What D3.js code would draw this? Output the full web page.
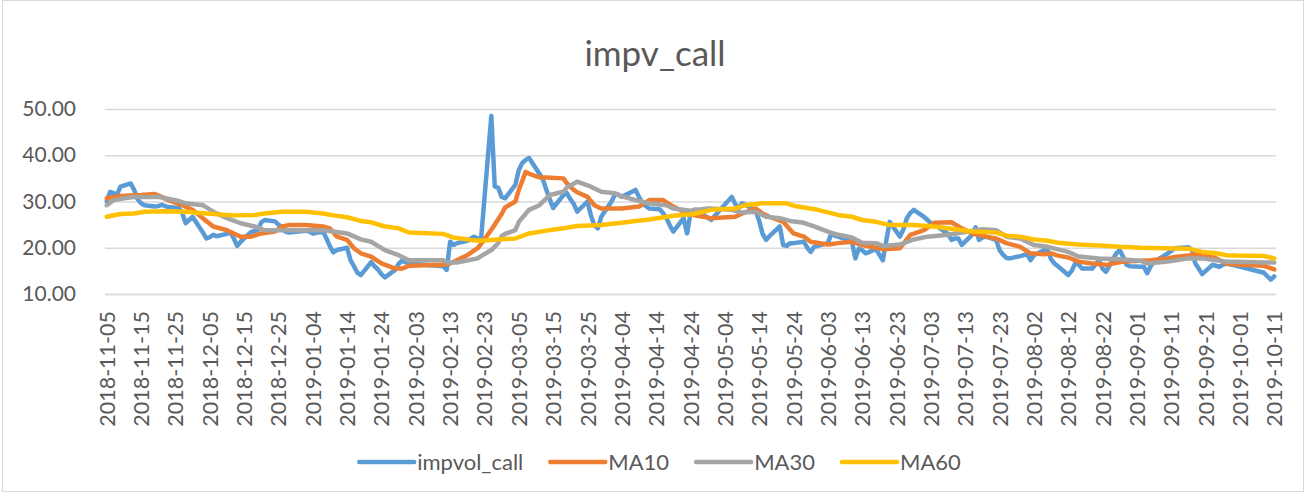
<!DOCTYPE html>
<html>
<head>
<meta charset="utf-8">
<script src="https://cdn.jsdelivr.net/npm/d3@7"></script>
<style>
  html, body { margin: 0; padding: 0; background: #fff; }
  svg { display: block; font-family: Lato, "Open Sans", sans-serif; }
</style>
</head>
<body>
<svg id="chart" width="1307" height="494"></svg>
<script>
// ---- data ----
const firstDay = '2018-11-05';
const lastDay = '2019-10-11';
const yTicks = [10, 20, 30, 40, 50];

const impvolDates = [
  '2018-11-05','2018-11-06','2018-11-07','2018-11-08','2018-11-09','2018-11-12','2018-11-13','2018-11-14','2018-11-15','2018-11-16',
  '2018-11-19','2018-11-20','2018-11-21','2018-11-22','2018-11-23','2018-11-26','2018-11-27','2018-11-28','2018-11-29','2018-11-30',
  '2018-12-03','2018-12-04','2018-12-05','2018-12-06','2018-12-07','2018-12-10','2018-12-11','2018-12-12','2018-12-13','2018-12-14',
  '2018-12-17','2018-12-18','2018-12-19','2018-12-20','2018-12-21','2018-12-24','2018-12-25','2018-12-26','2018-12-27','2018-12-28',
  '2019-01-02','2019-01-03','2019-01-04','2019-01-07','2019-01-08','2019-01-09','2019-01-10','2019-01-11','2019-01-14','2019-01-15',
  '2019-01-16','2019-01-17','2019-01-18','2019-01-21','2019-01-22','2019-01-23','2019-01-24','2019-01-25','2019-01-28','2019-01-29',
  '2019-01-30','2019-01-31','2019-02-01','2019-02-11','2019-02-12','2019-02-13','2019-02-14','2019-02-15','2019-02-18','2019-02-19',
  '2019-02-20','2019-02-21','2019-02-22','2019-02-25','2019-02-26','2019-02-27','2019-02-28','2019-03-01','2019-03-04','2019-03-05',
  '2019-03-06','2019-03-07','2019-03-08','2019-03-11','2019-03-12','2019-03-13','2019-03-14','2019-03-15','2019-03-18','2019-03-19',
  '2019-03-20','2019-03-21','2019-03-22','2019-03-25','2019-03-26','2019-03-27','2019-03-28','2019-03-29','2019-04-01','2019-04-02',
  '2019-04-03','2019-04-04','2019-04-08','2019-04-09','2019-04-10','2019-04-11','2019-04-12','2019-04-15','2019-04-16','2019-04-17',
  '2019-04-18','2019-04-19','2019-04-22','2019-04-23','2019-04-24','2019-04-25','2019-04-26','2019-04-29','2019-04-30','2019-05-06',
  '2019-05-07','2019-05-08','2019-05-09','2019-05-10','2019-05-13','2019-05-14','2019-05-15','2019-05-16','2019-05-17','2019-05-20',
  '2019-05-21','2019-05-22','2019-05-23','2019-05-24','2019-05-27','2019-05-28','2019-05-29','2019-05-30','2019-05-31','2019-06-03',
  '2019-06-04','2019-06-05','2019-06-06','2019-06-10','2019-06-11','2019-06-12','2019-06-13','2019-06-14','2019-06-17','2019-06-18',
  '2019-06-19','2019-06-20','2019-06-21','2019-06-24','2019-06-25','2019-06-26','2019-06-27','2019-06-28','2019-07-01','2019-07-02',
  '2019-07-03','2019-07-04','2019-07-05','2019-07-08','2019-07-09','2019-07-10','2019-07-11','2019-07-12','2019-07-15','2019-07-16',
  '2019-07-17','2019-07-18','2019-07-19','2019-07-22','2019-07-23','2019-07-24','2019-07-25','2019-07-26','2019-07-29','2019-07-30',
  '2019-07-31','2019-08-01','2019-08-02','2019-08-05','2019-08-06','2019-08-07','2019-08-08','2019-08-09','2019-08-12','2019-08-13',
  '2019-08-14','2019-08-15','2019-08-16','2019-08-19','2019-08-20','2019-08-21','2019-08-22','2019-08-23','2019-08-26','2019-08-27',
  '2019-08-28','2019-08-29','2019-08-30','2019-09-02','2019-09-03','2019-09-04','2019-09-05','2019-09-06','2019-09-09','2019-09-10',
  '2019-09-11','2019-09-12','2019-09-16','2019-09-17','2019-09-18','2019-09-19','2019-09-20','2019-09-23','2019-09-24','2019-09-25',
  '2019-09-26','2019-09-27','2019-09-30','2019-10-08','2019-10-09','2019-10-10','2019-10-11'
];
const impvolValues = [
  30.0,32.1,31.8,31.5,33.2,33.9,32.5,30.5,29.6,29.2,
  28.9,29.0,29.3,29.0,28.8,28.6,27.5,25.3,26.0,26.7,
  23.3,22.0,22.3,22.8,22.5,23.0,23.3,22.0,20.4,21.3,
  23.4,23.6,23.8,25.5,26.0,25.7,25.0,24.5,23.5,23.3,
  23.7,23.5,23.1,23.5,22.0,20.3,19.0,19.5,20.0,17.3,
  16.0,14.6,14.1,16.9,16.0,15.3,14.3,13.6,15.2,16.5,
  17.2,16.9,16.6,16.0,15.2,21.3,20.6,21.0,21.5,22.0,
  22.4,22.0,21.8,48.5,33.2,33.0,31.0,30.7,33.6,36.8,
  38.3,39.0,39.4,36.0,34.8,32.6,30.5,28.6,31.4,31.8,
  30.5,29.5,27.8,30.0,27.0,24.8,24.2,26.7,30.0,31.5,
  31.5,31.0,32.5,31.0,29.6,29.0,28.5,28.3,27.5,26.4,
  24.8,23.5,26.4,23.1,27.5,28.2,28.2,26.5,26.0,31.0,
  29.5,28.5,29.6,29.3,28.0,25.8,23.0,21.7,22.5,24.6,
  20.6,20.4,21.0,21.0,21.3,20.0,19.1,20.2,20.4,21.0,
  23.1,22.6,22.4,21.3,17.7,19.8,19.5,18.8,19.7,18.5,
  17.3,21.5,25.6,22.4,24.0,26.4,27.5,28.2,26.7,26.0,
  25.3,24.8,24.5,23.0,21.7,22.0,22.0,20.6,22.8,24.4,
  21.7,22.2,22.4,21.7,19.5,18.5,17.8,17.7,18.2,18.4,
  18.6,17.3,18.4,19.5,19.5,17.5,16.6,16.0,14.1,15.0,
  16.6,16.4,15.5,15.5,16.5,17.3,15.5,14.8,18.8,19.5,
  18.0,16.3,16.0,15.9,15.9,14.5,16.0,17.0,18.3,18.8,
  19.3,19.9,20.1,19.5,16.6,15.5,14.3,16.3,16.1,15.9,
  16.3,16.6,16.1,14.6,13.8,13.1,13.8
];

const ma10Dates = [
  '2018-11-05','2018-11-09','2018-11-15','2018-11-19','2018-11-21','2018-11-23','2018-11-27','2018-11-30','2018-12-03','2018-12-06',
  '2018-12-10','2018-12-12','2018-12-14','2018-12-17','2018-12-20','2018-12-24','2018-12-26','2018-12-28','2019-01-02','2019-01-07',
  '2019-01-09','2019-01-11','2019-01-14','2019-01-16','2019-01-18','2019-01-21','2019-01-24','2019-01-28','2019-01-30','2019-02-01',
  '2019-02-11','2019-02-13','2019-02-18','2019-02-21','2019-02-22','2019-02-25','2019-02-26','2019-02-28','2019-03-01','2019-03-04',
  '2019-03-05','2019-03-07','2019-03-08','2019-03-11','2019-03-13','2019-03-18','2019-03-19','2019-03-21','2019-03-22','2019-03-25',
  '2019-03-27','2019-03-29','2019-04-02','2019-04-04','2019-04-09','2019-04-12','2019-04-16','2019-04-19','2019-04-23','2019-04-26',
  '2019-04-30','2019-05-07','2019-05-09','2019-05-13','2019-05-15','2019-05-17','2019-05-21','2019-05-24','2019-05-27','2019-05-29',
  '2019-06-03','2019-06-06','2019-06-10','2019-06-13','2019-06-19','2019-06-24','2019-06-27','2019-07-01','2019-07-04','2019-07-09',
  '2019-07-12','2019-07-15','2019-07-19','2019-07-22','2019-07-25','2019-07-29','2019-08-01','2019-08-05','2019-08-07','2019-08-09',
  '2019-08-12','2019-08-15','2019-08-19','2019-08-23','2019-08-28','2019-09-02','2019-09-05','2019-09-10','2019-09-12','2019-09-16',
  '2019-09-18','2019-09-23','2019-09-27','2019-09-30','2019-10-08','2019-10-11'
];
const ma10Values = [
  30.7,31.2,31.4,31.6,31.0,30.3,29.2,28.2,26.4,24.6,
  23.8,23.1,22.4,22.4,23.1,23.5,24.6,24.9,24.9,24.6,
  24.2,22.4,21.7,19.9,18.8,18.1,16.6,15.5,15.5,16.1,
  16.3,16.6,18.4,19.9,20.8,23.9,25.0,27.3,28.7,30.0,
  32.5,36.4,36.0,35.2,35.2,35.0,33.9,32.5,32.0,31.0,
  29.2,28.5,28.5,28.5,28.9,30.3,30.3,28.9,27.4,26.9,
  26.4,26.7,27.4,28.5,27.4,26.7,25.6,23.1,22.4,21.3,
  20.7,21.0,21.3,20.6,19.7,19.9,22.8,23.8,25.4,25.5,
  24.2,23.1,22.4,22.0,21.0,20.2,18.8,18.6,18.8,18.3,
  17.9,17.0,16.6,16.3,17.0,17.2,17.3,17.7,18.0,18.3,
  18.6,18.1,16.6,16.4,16.1,15.3
];

const ma30Dates = [
  '2018-11-05','2018-11-07','2018-11-12','2018-11-16','2018-11-20','2018-11-22','2018-11-26','2018-11-28','2018-12-03','2018-12-06',
  '2018-12-10','2018-12-14','2018-12-18','2018-12-21','2018-12-26','2019-01-02','2019-01-07','2019-01-10','2019-01-14','2019-01-18',
  '2019-01-21','2019-01-25','2019-01-29','2019-02-01','2019-02-11','2019-02-12','2019-02-15','2019-02-21','2019-02-22','2019-02-25',
  '2019-02-27','2019-02-28','2019-03-01','2019-03-04','2019-03-05','2019-03-08','2019-03-11','2019-03-14','2019-03-18','2019-03-19',
  '2019-03-22','2019-03-26','2019-03-29','2019-04-02','2019-04-04','2019-04-09','2019-04-12','2019-04-17','2019-04-19','2019-04-24',
  '2019-04-29','2019-04-30','2019-05-06','2019-05-09','2019-05-13','2019-05-16','2019-05-20','2019-05-23','2019-05-27','2019-05-30',
  '2019-06-03','2019-06-06','2019-06-10','2019-06-13','2019-06-17','2019-06-19','2019-06-24','2019-06-28','2019-07-02','2019-07-08',
  '2019-07-12','2019-07-18','2019-07-22','2019-07-25','2019-07-29','2019-08-02','2019-08-06','2019-08-12','2019-08-15','2019-08-21',
  '2019-08-27','2019-09-02','2019-09-04','2019-09-10','2019-09-16','2019-09-20','2019-09-24','2019-09-27','2019-09-30','2019-10-08',
  '2019-10-11'
];
const ma30Values = [
  29.2,30.3,30.9,31.0,31.0,30.7,30.1,29.6,29.2,27.8,
  26.4,25.3,24.6,23.8,23.8,23.8,23.8,23.5,23.1,21.8,
  21.3,19.5,18.4,17.3,17.3,16.8,16.8,17.7,18.2,19.5,
  21.0,22.5,23.0,23.8,25.6,28.2,29.2,31.4,32.1,33.0,
  34.3,33.2,32.1,31.8,31.1,30.1,29.6,29.2,28.5,28.0,
  28.5,28.5,28.2,27.6,27.8,26.7,26.4,25.8,25.4,24.6,
  23.5,22.8,22.2,21.1,21.0,20.4,20.7,21.8,22.4,22.8,
  23.3,24.0,23.8,22.4,22.0,20.6,20.2,19.1,18.1,17.7,
  17.5,17.2,16.6,17.0,17.7,17.7,17.3,17.0,17.0,16.8,
  16.8
];

const ma60Dates = [
  '2018-11-05','2018-11-09','2018-11-13','2018-11-16','2018-11-22','2018-11-28','2018-12-04','2018-12-12','2018-12-18','2018-12-21',
  '2018-12-26','2019-01-02','2019-01-07','2019-01-10','2019-01-14','2019-01-18','2019-01-21','2019-01-25','2019-01-29','2019-02-01',
  '2019-02-11','2019-02-14','2019-02-19','2019-02-22','2019-02-27','2019-03-04','2019-03-08','2019-03-13','2019-03-18','2019-03-22',
  '2019-03-29','2019-04-04','2019-04-08','2019-04-12','2019-04-19','2019-04-25','2019-04-30','2019-05-07','2019-05-10','2019-05-15',
  '2019-05-22','2019-05-24','2019-05-31','2019-06-06','2019-06-10','2019-06-13','2019-06-17','2019-06-21','2019-06-28','2019-07-04',
  '2019-07-10','2019-07-15','2019-07-22','2019-07-25','2019-07-29','2019-08-02','2019-08-06','2019-08-09','2019-08-15','2019-08-21',
  '2019-08-27','2019-09-02','2019-09-09','2019-09-16','2019-09-20','2019-09-24','2019-09-27','2019-09-30','2019-10-08','2019-10-11'
];
const ma60Values = [
  26.7,27.3,27.4,27.8,27.9,27.8,27.4,27.0,27.1,27.4,
  27.8,27.8,27.4,27.0,26.6,25.8,25.5,24.6,24.2,23.3,
  23.0,22.2,21.7,21.5,21.8,22.0,23.1,23.7,24.2,24.7,
  24.9,25.4,25.8,26.1,26.9,27.3,28.2,28.5,29.2,29.6,
  29.6,29.1,28.2,27.1,26.7,26.0,25.6,24.9,24.9,24.6,
  24.0,23.5,23.3,22.6,22.4,21.8,21.5,21.1,20.7,20.5,
  20.2,20.0,19.9,19.8,19.1,18.8,18.4,18.3,18.2,17.7
];

const seriesNames = ['impvol_call', 'MA10', 'MA30', 'MA60'];
const seriesColors = ['#5B9BD5', '#ED7D31', '#A5A5A5', '#FFC000'];

// ---- layout ----
const W = 1307, H = 494;
const plot = { left: 105, right: 1276, top: 109, bottom: 294 };
const textColor = '#595959';
const gridColor = '#D9D9D9';

const parse = d3.utcParse('%Y-%m-%d');
const fmt = d3.utcFormat('%Y-%m-%d');
const halfDay = 12 * 3600 * 1000;

const start = parse(firstDay);
const endExcl = d3.utcDay.offset(parse(lastDay), 1);

// date axis: every calendar day is one slot, points sit in the middle of the slot
const x = d3.scaleUtc().domain([start, endExcl]).range([plot.left, plot.right]);
const xMid = d => x(new Date(d.getTime() + halfDay));
const y = d3.scaleLinear().domain([10, 50]).range([plot.bottom, plot.top]);

const svg = d3.select('#chart');

svg.append('rect')
   .attr('width', W).attr('height', H)
   .attr('fill', '#fff');

// chart area border
svg.append('rect')
   .attr('x', 2.5).attr('y', 0.5)
   .attr('width', 1301).attr('height', 491)
   .attr('fill', 'none')
   .attr('stroke', gridColor)
   .attr('stroke-width', 1);

// title
svg.append('text')
   .attr('x', 655).attr('y', 66)
   .attr('text-anchor', 'middle')
   .attr('fill', textColor)
   .attr('font-size', 35)
   .text('impv_call');

// y axis + gridlines
const yAxis = svg.append('g')
   .attr('transform', `translate(${plot.left},0)`)
   .call(d3.axisLeft(y)
      .tickValues(yTicks)
      .tickFormat(d3.format('.2f'))
      .tickSize(-(plot.right - plot.left))
      .tickPadding(29));
yAxis.select('.domain').remove();
yAxis.selectAll('.tick line').attr('stroke', gridColor).attr('stroke-width', 1.3);
yAxis.selectAll('.tick text')
   .attr('fill', textColor)
   .attr('font-size', 21)
   .attr('font-family', 'Lato, "Open Sans", sans-serif');

// x axis (date labels every 10 days)
const xTickDates = d3.utcDay.range(start, endExcl, 10);
const xAxis = svg.append('g')
   .attr('transform', `translate(0,${plot.bottom})`)
   .call(d3.axisBottom(x)
      .tickValues(xTickDates.map(d => new Date(d.getTime() + halfDay)))
      .tickFormat(d => fmt(d))
      .tickSize(0));
xAxis.select('.domain').attr('stroke', gridColor).attr('stroke-width', 1.3);
xAxis.selectAll('.tick text')
   .attr('fill', textColor)
   .attr('font-size', 21.5)
   .attr('font-family', 'Lato, "Open Sans", sans-serif')
   .attr('text-anchor', 'end')
   .attr('x', 0).attr('y', 0)
   .attr('dy', '0.35em')
   .attr('transform', 'translate(0,17) rotate(-90)');

// series
const seriesData = [
  impvolDates.map((d, i) => [parse(d), impvolValues[i]]),
  ma10Dates.map((d, i) => [parse(d), ma10Values[i]]),
  ma30Dates.map((d, i) => [parse(d), ma30Values[i]]),
  ma60Dates.map((d, i) => [parse(d), ma60Values[i]])
];

const line = d3.line()
   .x(d => xMid(d[0]))
   .y(d => y(d[1]));

svg.append('g')
   .selectAll('path')
   .data(seriesData)
   .join('path')
   .attr('d', line)
   .attr('fill', 'none')
   .attr('stroke', (d, i) => seriesColors[i])
   .attr('stroke-width', 4.5)
   .attr('stroke-linejoin', 'round')
   .attr('stroke-linecap', 'round');

// legend
const legendY = 462;
const legend = svg.append('g');
const items = legend.selectAll('g')
   .data(seriesNames)
   .join('g');
items.append('line')
   .attr('x1', 0).attr('x2', 55)
   .attr('y1', 0).attr('y2', 0)
   .attr('stroke', (d, i) => seriesColors[i])
   .attr('stroke-width', 4.5)
   .attr('stroke-linecap', 'round');
items.append('text')
   .attr('x', 58)
   .attr('dy', '0.35em')
   .attr('fill', textColor)
   .attr('font-size', 22)
   .text(d => d);

let widths = [];
items.each(function () {
  widths.push(58 + d3.select(this).select('text').node().getComputedTextLength());
});
const gap = 27;
const total = d3.sum(widths) + gap * (widths.length - 1);
let cx = 660 - total / 2;
items.attr('transform', (d, i) => {
  const t = `translate(${cx},${legendY})`;
  cx += widths[i] + gap;
  return t;
});
</script>
</body>
</html>
